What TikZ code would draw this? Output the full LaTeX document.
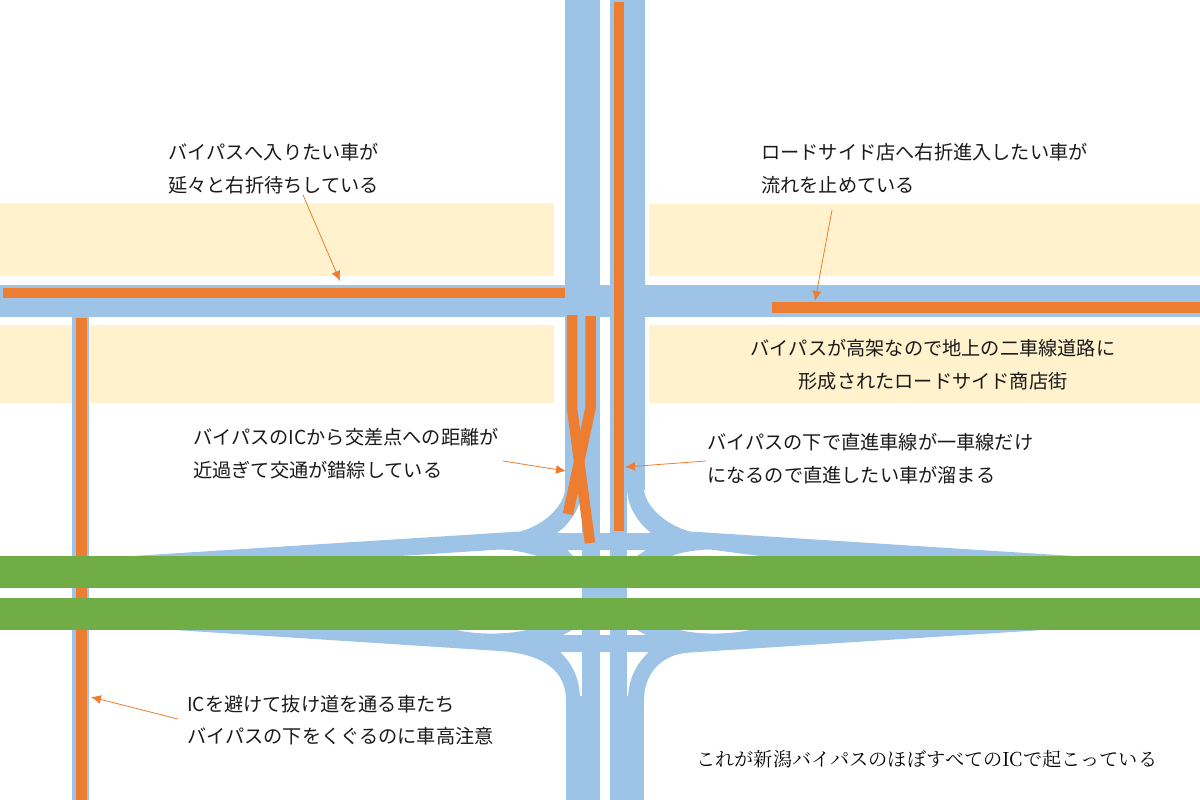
\documentclass[tikz,border=0pt]{standalone}
\usepackage{fontspec}
\setmainfont{Noto Sans CJK JP}
\newfontfamily\minchofont{Noto Serif CJK JP}
\usetikzlibrary{arrows.meta}
\definecolor{roadblue}{HTML}{9DC3E6}
\definecolor{congest}{HTML}{ED7D31}
\definecolor{elevated}{HTML}{70AD47}
\definecolor{shops}{HTML}{FFF2CC}
\definecolor{inktext}{HTML}{1A1A1A}
\tikzset{
  road/.style={fill=roadblue,draw=none},
  queue/.style={draw=congest,line width=10.5pt,line cap=butt},
  bypass/.style={fill=elevated,draw=none},
  shopzone/.style={fill=shops,draw=none},
  pointer/.style={draw=congest,line width=0.8pt,-{Latex[length=10pt,width=9pt]}},
  note/.style={text=inktext,font=\fontsize{19.2}{19.2}\selectfont,inner sep=0pt,anchor=west},
  notec/.style={note,anchor=center}
}
\begin{document}
\begin{tikzpicture}[x=1pt,y=-1pt]
\useasboundingbox (0,0) rectangle (1200,800);
\fill[white] (0,0) rectangle (1200,800);
\path[shopzone] (0,203) rectangle (554,276);
\path[shopzone] (0,325) rectangle (554,403);
\path[shopzone] (649,204) rectangle (1200,276);
\path[shopzone] (649,325) rectangle (1200,403);
\path[road] (565,0) rectangle (599.5,490);
\path[road] (610,0) rectangle (644.5,490);
\path[road] (0,285) rectangle (1200,317);
\path[road] (72,317) rectangle (89,800);
\path[road] (582,480) rectangle (599.5,800);
\path[road] (610,480) rectangle (627,800);
\path[road] (582,588) rectangle (627,598);
\path[road] (566,696) rectangle (599.5,800);
\path[road] (610,696) rectangle (644,800);
% upper ramps
\path[road] (133,556) -- (520,531.5) .. controls (545,525) and (565,505) .. (565,488)
  -- (582,488) .. controls (582,505) and (572,522) .. (557,533)
  -- (651,533) .. controls (637,522) and (627,505) .. (627,488)
  -- (644,488) .. controls (644,505) and (665,525) .. (690,531.5)
  -- (1073,556) -- (760,556) -- (710,549.5) .. controls (700,549.5) and (680,552) .. (672,556)
  -- (637,556) -- (646,550) -- (567,550) -- (573,556) -- (537,556)
  .. controls (525,552) and (510,549.5) .. (500,549.5) -- (400,556) -- cycle;
% lower ramps
\path[road] (175,630) -- (457,630) .. controls (475,634.5) and (505,635) .. (527,630)
  -- (572,630) -- (563,635) -- (646,635) -- (637,630) -- (680,630)
  .. controls (700,635) and (730,634.5) .. (750,630) -- (1043,630)
  -- (690,652.5) .. controls (660,654) and (644,675) .. (644,700)
  -- (628,700) .. controls (628,680) and (636,664) .. (649,652)
  -- (560,652) .. controls (573,664) and (580,680) .. (580,700)
  -- (566,700) .. controls (566,672) and (545,654) .. (500,651) -- cycle;
\draw[queue] (3,293) -- (565,293);
\draw[queue] (772,307.5) -- (1200,307.5);
\draw[queue] (81.5,318) -- (81.5,800);
\draw[queue] (619,2) -- (619,531);
\draw[queue,line join=round] (572,315) -- (572,408) -- (590,543);
\draw[queue,line join=round] (590.5,316) -- (590.5,408) -- (568,514);
\path[bypass] (0,556) rectangle (1200,588);
\path[bypass] (0,598) rectangle (1200,630);
\node[note] (n1a) at (168,152) {バイパスへ入りたい車が};
\node[note] (n1b) at (168,185) {延々と右折待ちしている};
\node[note] (n2a) at (761,152) {ロードサイド店へ右折進入したい車が};
\node[note] (n2b) at (761,185) {流れを止めている};
\node[notec] (n3a) at (933,348) {バイパスが高架なので地上の二車線道路に};
\node[notec] (n3b) at (933,381) {形成されたロードサイド商店街};
\node[note] (n4a) at (193,437) {バイパスのICから交差点への距離が};
\node[note] (n4b) at (193,470) {近過ぎて交通が錯綜している};
\node[note] (n5a) at (707,442) {バイパスの下で直進車線が一車線だけ};
\node[note] (n5b) at (707,475) {になるので直進したい車が溜まる};
\node[note] (n6a) at (187,704) {ICを避けて抜け道を通る車たち};
\node[note] (n6b) at (187,736) {バイパスの下をくぐるのに車高注意};
\node[note,text=black,font=\minchofont\fontsize{19.2}{19.2}\selectfont] (n7) at (696,759) {これが新潟バイパスのほぼすべてのICで起こっている};
\coordinate (p1a) at (303,195); \coordinate (p1b) at (340,281);
\coordinate (p2a) at (832,210); \coordinate (p2b) at (815,301);
\coordinate (p3a) at (503,461); \coordinate (p3b) at (566,471);
\coordinate (p4a) at (706,461); \coordinate (p4b) at (625,467);
\coordinate (p5a) at (178,719); \coordinate (p5b) at (91,697);
\draw[pointer] (p1a) -- (p1b);
\draw[pointer] (p2a) -- (p2b);
\draw[pointer] (p3a) -- (p3b);
\draw[pointer] (p4a) -- (p4b);
\draw[pointer] (p5a) -- (p5b);
\end{tikzpicture}
\end{document}
